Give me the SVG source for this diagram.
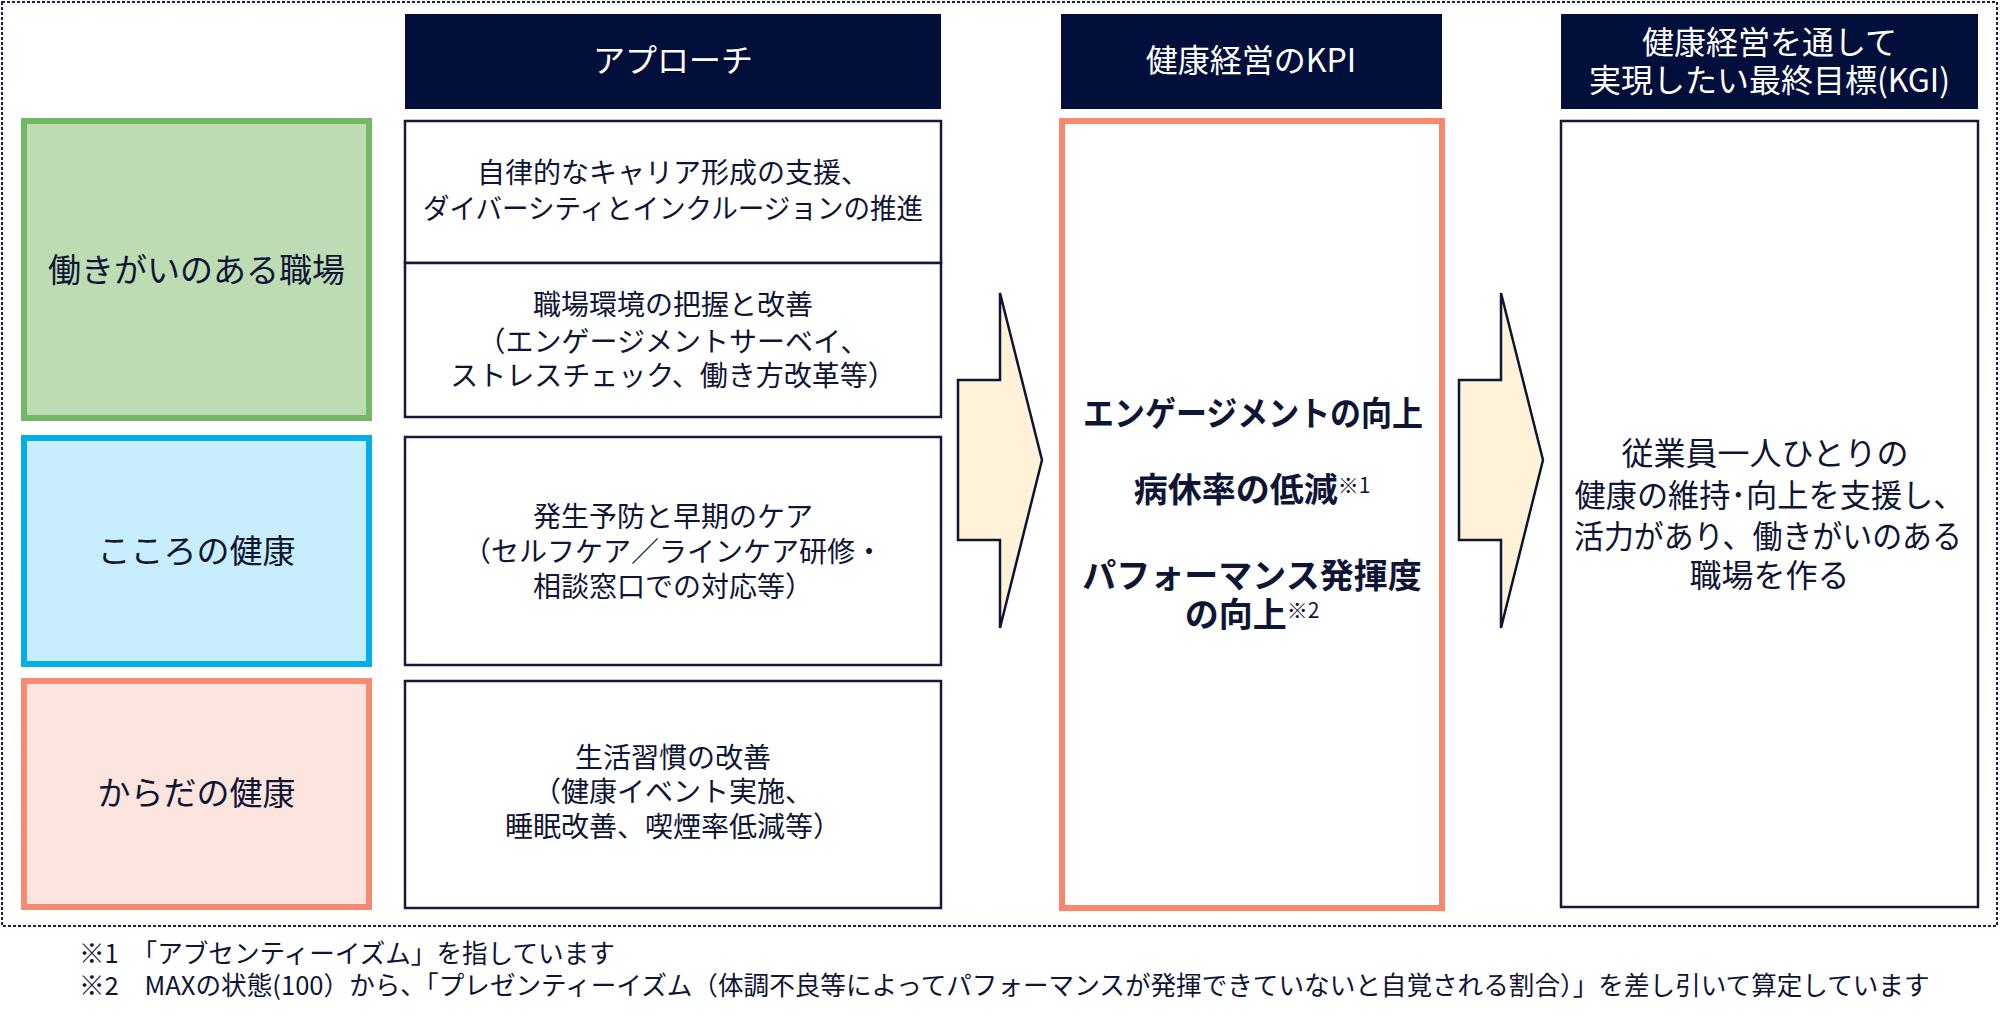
<svg xmlns="http://www.w3.org/2000/svg" width="2000" height="1027" viewBox="0 0 2000 1027">
<style>
text{font-family:"Noto Sans CJK JP","Noto Sans",sans-serif;fill:#0f1535;text-anchor:middle}
.hdr{fill:#020f3a}
.hdrt{fill:#ffffff;font-size:32px}
.lab{font-size:33px}
.ap{font-size:28px}
.kpi{font-size:34px;font-weight:bold}
.kgi{font-size:32px}
.box{fill:#ffffff;stroke:#141a3a;stroke-width:2.5}
.arrow{fill:#fff2d9;stroke:#0f1535;stroke-width:2.5;stroke-linejoin:miter}
.fn{font-size:25.6px;text-anchor:start}
.sup{font-size:21px;font-weight:normal}
</style>
<rect x="2" y="2" width="1995" height="924" fill="none" stroke="#1a1f45" stroke-width="2" stroke-dasharray="3 2"/>
<g id="header-approach"><rect class="hdr" x="405" y="14" width="536" height="95"/><text class="hdrt" x="673" y="72">アプローチ</text></g>
<g id="header-kpi"><rect class="hdr" x="1061" y="14" width="381" height="95"/><text class="hdrt" x="1251" y="72">健康経営のKPI</text></g>
<g id="header-kgi"><rect class="hdr" x="1561" y="14" width="417" height="95"/><text class="hdrt" x="1769.5" y="54">健康経営を通して</text><text class="hdrt" x="1769.5" y="92">実現したい最終目標(KGI)</text></g>
<g id="cat-workplace"><rect x="24" y="121" width="345" height="297" fill="#bddcb3" stroke="#73b866" stroke-width="6"/><text class="lab" x="196.5" y="282">働きがいのある職場</text></g>
<g id="cat-mind"><rect x="24" y="438" width="345" height="226" fill="#c9eefb" stroke="#00aee8" stroke-width="6"/><text class="lab" x="196.5" y="563">こころの健康</text></g>
<g id="cat-body"><rect x="24" y="681" width="345" height="226" fill="#fde5df" stroke="#f88a72" stroke-width="6"/><text class="lab" x="196.5" y="805">からだの健康</text></g>
<g id="approach-1"><rect class="box" x="405" y="121" width="536" height="142"/><text class="ap" x="673" y="183">自律的なキャリア形成の支援、</text><text class="ap" x="673" y="219" textLength="500" lengthAdjust="spacingAndGlyphs">ダイバーシティとインクルージョンの推進</text></g>
<g id="approach-2"><rect class="box" x="405" y="263" width="536" height="154"/><text class="ap" x="673" y="315">職場環境の把握と改善</text><text class="ap" x="673" y="352">（エンゲージメントサーベイ、</text><text class="ap" x="673" y="386">ストレスチェック、働き方改革等）</text></g>
<g id="approach-3"><rect class="box" x="405" y="437" width="536" height="228"/><text class="ap" x="673" y="527">発生予防と早期のケア</text><text class="ap" x="673" y="562">（セルフケア／ラインケア研修・</text><text class="ap" x="673" y="597">相談窓口での対応等）</text></g>
<g id="approach-4"><rect class="box" x="405" y="681" width="536" height="227"/><text class="ap" x="673" y="768">生活習慣の改善</text><text class="ap" x="673" y="802">（健康イベント実施、</text><text class="ap" x="673" y="837">睡眠改善、喫煙率低減等）</text></g>
<g id="kpi"><rect x="1062" y="121" width="380" height="787" fill="#ffffff" stroke="#f8876f" stroke-width="6"/>
<text class="kpi" x="1253" y="426" textLength="340" lengthAdjust="spacingAndGlyphs">エンゲージメントの向上</text>
<text class="kpi" x="1252" y="502">病休率の低減<tspan class="sup" dy="-9">※1</tspan></text>
<text class="kpi" x="1252" y="588">パフォーマンス発揮度</text>
<text class="kpi" x="1252" y="627">の向上<tspan class="sup" dy="-9">※2</tspan></text></g>
<g id="kgi"><rect class="box" x="1561" y="121" width="417" height="786"/>
<text class="kgi" x="1765" y="465">従業員一人ひとりの</text>
<text class="kgi" x="1769.5" y="507" textLength="390" lengthAdjust="spacingAndGlyphs">健康の維持･向上を支援し、</text>
<text class="kgi" x="1768" y="548" textLength="388" lengthAdjust="spacingAndGlyphs">活力があり、働きがいのある</text>
<text class="kgi" x="1769.5" y="587">職場を作る</text></g>
<g id="connectors">
<polygon class="arrow" points="958,380 1000,380 1000,293 1042,460 1000,628 1000,540 958,540"/>
<polygon class="arrow" points="1459,380 1501,380 1501,293 1543,460 1501,628 1501,540 1459,540"/>
</g>
<g id="footnotes">
<text class="fn" x="79" y="963">※1　「アブセンティーイズム」を指しています</text>
<text class="fn" x="79" y="995">※2　MAXの状態(100）から、「プレゼンティーイズム（体調不良等によってパフォーマンスが発揮できていないと自覚される割合）」を差し引いて算定しています</text>
</g>
</svg>
